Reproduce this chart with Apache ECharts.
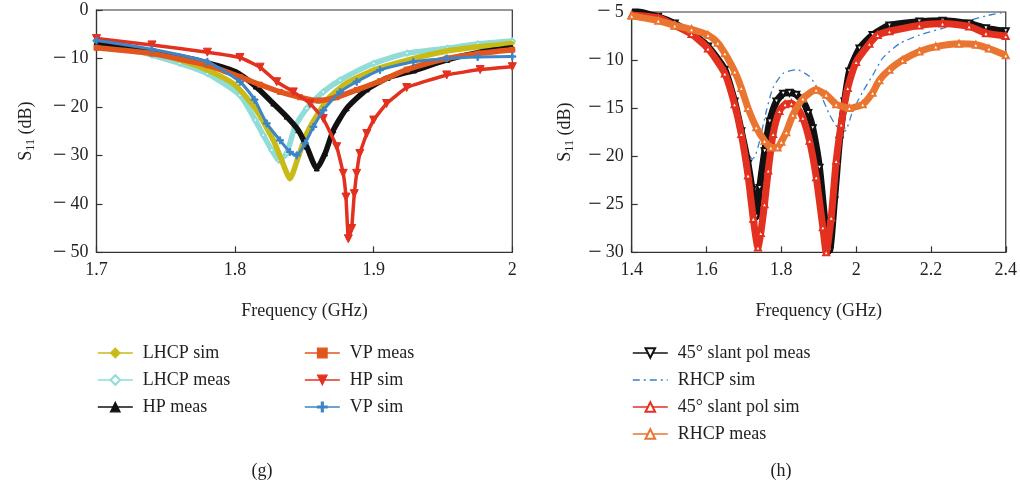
<!DOCTYPE html>
<html><head><meta charset="utf-8">
<script src="https://cdn.jsdelivr.net/npm/echarts@6/dist/echarts.min.js"></script>
<style>html,body{margin:0;padding:0;background:#fff}#c{width:1020px;height:487px}</style>
</head><body><div id="c"></div>
<script>
// ---------- Data (frequency GHz, S11 dB) ----------
// Panel (g)
const lhcpSim = [[1.70,-6.8],[1.72,-7.6],[1.74,-8.8],[1.76,-10.3],[1.78,-12.4],[1.80,-15.5],[1.815,-20.5],[1.8276,-26.9],[1.8336,-31.0],[1.8396,-34.8],[1.8456,-30.3],[1.8517,-25.5],[1.86,-21.3],[1.8685,-17.9],[1.8805,-15.1],[1.90,-12.4],[1.925,-10.3],[1.95,-8.6],[1.975,-7.6],[2.0,-6.9]];
const lhcpMeas = [[1.70,-6.5],[1.72,-7.6],[1.74,-9.3],[1.76,-11.0],[1.78,-13.1],[1.8035,-17.6],[1.8145,-22.7],[1.8203,-25.8],[1.8264,-28.9],[1.8315,-31.0],[1.8372,-29.6],[1.8432,-24.1],[1.8517,-20.3],[1.8636,-16.9],[1.8757,-14.5],[1.90,-11.0],[1.924,-8.9],[1.953,-7.9],[1.975,-7.0],[2.0,-6.4]];
const hpMeas = [[1.70,-6.7],[1.72,-7.5],[1.74,-8.6],[1.76,-9.6],[1.78,-10.9],[1.80,-12.7],[1.815,-15.8],[1.8276,-19.3],[1.8372,-22.0],[1.8456,-24.8],[1.8517,-28.2],[1.8589,-32.7],[1.8649,-29.6],[1.8709,-24.8],[1.8805,-20.3],[1.895,-16.4],[1.91,-14.0],[1.929,-12.5],[1.953,-10.3],[1.975,-8.8],[2.0,-7.8]];
const vpMeas = [[1.70,-7.8],[1.74,-9.0],[1.78,-11.4],[1.8035,-13.8],[1.818,-15.4],[1.8324,-16.9],[1.8468,-18.0],[1.86,-18.7],[1.8732,-18.0],[1.8877,-16.5],[1.9045,-14.7],[1.9238,-12.3],[1.9527,-10.0],[1.975,-9.0],[2.0,-8.2]];
const hpSim = [[1.70,-5.9],[1.74,-7.2],[1.78,-8.7],[1.8035,-9.8],[1.818,-11.8],[1.83,-14.8],[1.842,-16.9],[1.854,-19.3],[1.8636,-22.4],[1.8733,-28.2],[1.878,-33.7],[1.880,-38.6],[1.8817,-47.2],[1.8841,-45.1],[1.886,-37.9],[1.8877,-33.7],[1.89,-29.6],[1.895,-25.5],[1.90,-22.7],[1.9093,-19.3],[1.9238,-16.0],[1.9527,-13.4],[1.9768,-12.3],[2.0,-11.7]];
const vpSim = [[1.70,-6.3],[1.74,-8.1],[1.78,-10.7],[1.8035,-14.8],[1.814,-18.5],[1.8228,-23.4],[1.8324,-26.9],[1.8396,-29.3],[1.8444,-30.0],[1.8505,-27.5],[1.8565,-24.1],[1.8637,-20.7],[1.8757,-16.9],[1.8877,-14.8],[1.9045,-12.4],[1.9286,-10.7],[1.9527,-10.0],[1.975,-9.7],[2.0,-9.6]];
// Panel (h)
const slantMeas = [[1.40,-4.8],[1.47,-5.5],[1.515,-6.2],[1.56,-7.2],[1.604,-8.6],[1.649,-11.0],[1.675,-14.3],[1.693,-17.4],[1.711,-20.8],[1.722,-23.5],[1.733,-26.3],[1.742,-23.3],[1.7555,-19.5],[1.769,-16.4],[1.787,-14.3],[1.805,-13.5],[1.822,-13.4],[1.84,-13.6],[1.858,-14.3],[1.872,-15.5],[1.884,-17.1],[1.902,-21.2],[1.92,-28.1],[1.929,-29.8],[1.942,-24.6],[1.9555,-18.4],[1.969,-14.3],[1.982,-11.2],[2.009,-8.8],[2.044,-7.4],[2.089,-6.4],[2.169,-6.0],[2.231,-5.9],[2.302,-6.2],[2.347,-6.7],[2.40,-7.0]];
const rhcpSim = [[1.40,-5.0],[1.47,-5.5],[1.56,-7.1],[1.604,-8.5],[1.649,-11.0],[1.675,-13.8],[1.693,-16.5],[1.71,-19.3],[1.722,-20.3],[1.73,-20.0],[1.742,-18.4],[1.76,-15.3],[1.7776,-12.9],[1.8043,-11.4],[1.84,-11.0],[1.8755,-11.7],[1.902,-13.3],[1.929,-15.7],[1.95,-17.0],[1.97,-17.4],[1.991,-15.3],[2.0176,-13.3],[2.044,-11.6],[2.071,-9.8],[2.1155,-8.3],[2.169,-7.4],[2.231,-6.7],[2.302,-5.9],[2.347,-5.4],[2.40,-5.0]];
const slantSim = [[1.40,-5.3],[1.471,-5.6],[1.515,-6.4],[1.56,-7.3],[1.604,-8.8],[1.649,-11.4],[1.675,-14.6],[1.693,-17.7],[1.711,-22.0],[1.725,-26.5],[1.7376,-29.5],[1.745,-28.0],[1.755,-25.0],[1.765,-21.5],[1.778,-17.7],[1.795,-15.3],[1.81,-14.6],[1.827,-14.5],[1.843,-15.0],[1.8576,-16.0],[1.8755,-18.4],[1.8933,-22.2],[1.911,-27.4],[1.92,-30.0],[1.9333,-26.4],[1.9467,-20.5],[1.96,-16.7],[1.9776,-12.9],[2.0,-10.2],[2.0355,-8.3],[2.0577,-7.4],[2.089,-7.0],[2.169,-6.4],[2.231,-6.2],[2.302,-6.5],[2.347,-7.2],[2.40,-7.5]];
const rhcpMeas = [[1.40,-5.4],[1.471,-5.9],[1.515,-6.4],[1.56,-6.8],[1.604,-7.4],[1.63,-8.2],[1.649,-9.3],[1.6755,-11.2],[1.693,-12.9],[1.711,-15.0],[1.733,-17.0],[1.755,-18.4],[1.772,-19.1],[1.79,-19.1],[1.80,-18.5],[1.8133,-17.5],[1.831,-15.7],[1.8576,-14.0],[1.893,-13.1],[1.92,-13.6],[1.9467,-14.6],[1.982,-15.0],[2.0176,-14.6],[2.044,-13.4],[2.062,-12.1],[2.089,-11.0],[2.124,-10.0],[2.169,-9.1],[2.213,-8.6],[2.275,-8.3],[2.32,-8.4],[2.355,-8.8],[2.40,-9.5]];

const legendLeftA = ['LHCP sim','LHCP meas','HP meas'];
const legendLeftB = ['VP meas','HP sim','VP sim'];
const legendRight = ['45° slant pol meas','RHCP sim','45° slant pol sim','RHCP meas'];
const captions = ['(g)','(h)'];

// ---------- Chart ----------
const FONT = 'Liberation Serif';
const TXT = '#231f20';
const fmtNum = v => { const r = Math.round(v*100)/100; return (r<0?'{m|\u2212}':'') + String(Math.abs(r)); };
const plus = 'path://M4,0h2v4h4v2h-4v4h-2v-4h-4v-2h4z';
const labelRich = {m:{fontFamily:FONT, fontSize:24, color:TXT, padding:[0,4,0,0]}};

function xAxis(idx, min, max, interval){
  return {type:'value', gridIndex:idx, min, max, interval,
    name:'Frequency (GHz)', nameLocation:'middle', nameGap:50,
    nameTextStyle:{fontFamily:FONT, fontSize:18, color:TXT},
    axisLine:{show:true, onZero:false, lineStyle:{color:'#333', width:1.2}},
    axisTick:{inside:true, length:6, lineStyle:{color:'#333', width:1.2}},
    axisLabel:{fontFamily:FONT, fontSize:18, color:TXT, margin:9, formatter:fmtNum, rich:labelRich},
    splitLine:{show:false}};
}
function yAxis(idx, min, max, interval, gap){
  return {type:'value', gridIndex:idx, min, max, interval,
    name:'{s|S}{sub|11}{s| (dB)}', nameLocation:'middle', nameGap:gap, nameRotate:90,
    nameTextStyle:{rich:{s:{fontFamily:FONT, fontSize:18, color:TXT}, sub:{fontFamily:FONT, fontSize:12, color:TXT, padding:[8,0,0,0]}}},
    axisLine:{show:true, onZero:false, lineStyle:{color:'#333', width:1.2}},
    axisTick:{inside:true, length:6, lineStyle:{color:'#333', width:1.2}},
    axisLabel:{fontFamily:FONT, fontSize:18, color:TXT, margin:8, formatter:fmtNum, rich:labelRich},
    splitLine:{show:false}};
}
function line(name, data, color, symbol, opts){
  return Object.assign({type:'line', name, data, showAllSymbol:true, symbol, symbolSize:5, smooth:0.2,
    lineStyle:{color, width:5.5}, itemStyle:{color, borderColor:color}, emphasis:{disabled:true}}, opts||{});
}

const legendCommon = {orient:'vertical', itemWidth:35, itemHeight:12, itemGap:9,
  lineStyle:{width:1.6}, itemStyle:{borderWidth:1.2},
  textStyle:{fontFamily:FONT, fontSize:18, color:TXT, padding:[0,0,0,5]}, selectedMode:false};

const option = {
  animation:false,
  backgroundColor:'#fff',
  grid:[
    {left:96.5, right:507.7, top:10, height:242.3, show:true, borderColor:'#333', borderWidth:1.2},
    {left:631.7, right:13.3, top:10, height:242.3, show:true, borderColor:'#333', borderWidth:1.2}
  ],
  xAxis:[xAxis(0,1.7,2.0,0.1), xAxis(1,1.4,2.4,0.2)],
  yAxis:[yAxis(0,-50,0,10,60), yAxis(1,-30,-5,5,56)],
  legend:[
    Object.assign({left:92, top:339, data:legendLeftA}, legendCommon),
    Object.assign({left:299, top:339, data:legendLeftB}, legendCommon),
    Object.assign({left:627, top:339, data:[legendRight[0], {name:legendRight[1], itemStyle:{color:'rgba(0,0,0,0)', borderColor:'rgba(0,0,0,0)', borderWidth:0}}, legendRight[2], legendRight[3]]}, legendCommon)
  ],
  series:[
    line('LHCP sim', lhcpSim, '#c9bb17', 'diamond', {xAxisIndex:0, yAxisIndex:0, z:3}),
    line('LHCP meas', lhcpMeas, '#8fdcd8', 'emptyDiamond', {xAxisIndex:0, yAxisIndex:0, z:2}),
    line('HP meas', hpMeas, '#111111', 'triangle', {xAxisIndex:0, yAxisIndex:0, z:4}),
    line('VP meas', vpMeas, '#e0561c', 'rect', {xAxisIndex:0, yAxisIndex:0, z:5}),
    line('HP sim', hpSim, '#e3301f', 'triangle', {xAxisIndex:0, yAxisIndex:0, symbolRotate:180, symbolSize:8, z:6, smooth:0.1, lineStyle:{color:'#e3301f', width:3.5}}),
    line('VP sim', vpSim, '#3d85c6', plus, {xAxisIndex:0, yAxisIndex:0, symbolSize:7, z:7, lineStyle:{color:'#3d85c6', width:3}}),
    line('45° slant pol meas', slantMeas, '#111111', 'emptyTriangle', {xAxisIndex:1, yAxisIndex:1, symbolRotate:180, symbolSize:6, z:3, lineStyle:{color:'#111', width:7}}),
    line('RHCP sim', rhcpSim, '#3a7fd0', 'none', {xAxisIndex:1, yAxisIndex:1, z:2, lineStyle:{color:'#3a7fd0', width:1.3, type:[7,4,2,4]}}),
    line('45° slant pol sim', slantSim, '#e3301f', 'emptyTriangle', {xAxisIndex:1, yAxisIndex:1, symbolSize:6, z:4, lineStyle:{color:'#e3301f', width:7}}),
    line('RHCP meas', rhcpMeas, '#ea7530', 'emptyTriangle', {xAxisIndex:1, yAxisIndex:1, symbolSize:6, z:5, lineStyle:{color:'#ea7530', width:7}})
  ],
  graphic:[
    {type:'text', style:{text:captions[0], fontFamily:FONT, fontSize:18, fill:TXT, x:262, y:471, align:'center', verticalAlign:'middle'}},
    {type:'text', style:{text:captions[1], fontFamily:FONT, fontSize:18, fill:TXT, x:781, y:471, align:'center', verticalAlign:'middle'}}
  ]
};
const chart = echarts.init(document.getElementById('c'), null, {renderer:'canvas'});
chart.setOption(option);
</script>
</body></html>
